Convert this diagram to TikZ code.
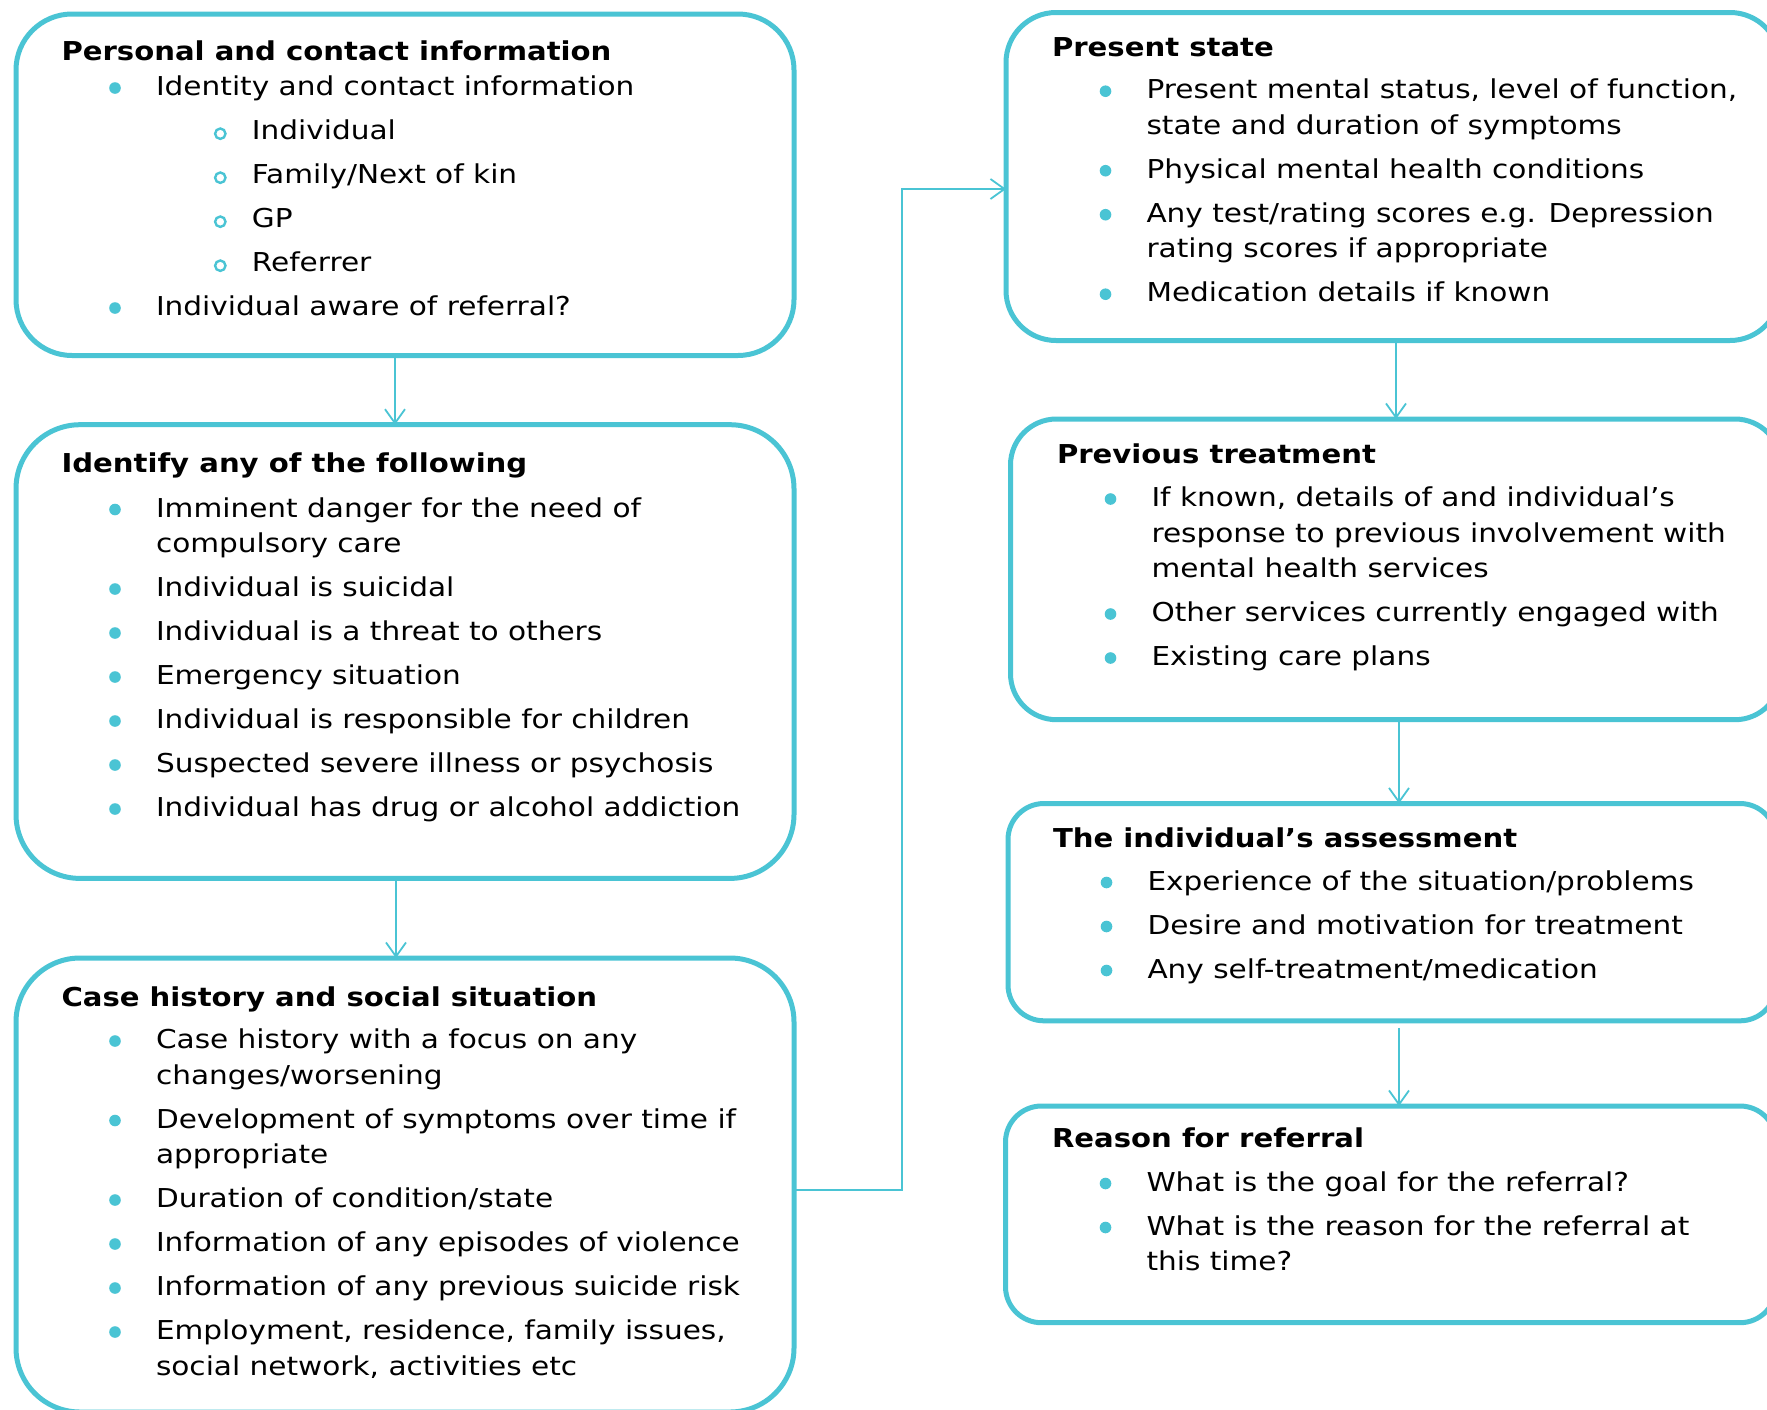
\documentclass[tikz,border=0pt]{standalone}
\usepackage{fontspec}
\setmainfont[FakeStretch=1.137,BoldFeatures={FakeStretch=1.12}]{DejaVu Sans}
\usetikzlibrary{arrows.meta,calc}
\definecolor{bcol}{RGB}{74,196,212}
\tikzset{
  flowbox/.style={draw=bcol, line width=2.5pt, inner sep=0pt, outer sep=0pt, fill=white},
  txt/.style={anchor=base west, inner sep=0pt, outer sep=0pt, font=\fontsize{13pt}{17.75pt}\selectfont},
  conn/.style={draw=bcol, line width=0.9pt, -{Straight Barb[length=7pt,width=10pt]}}
}
\newcommand\bulletdot{\tikz[baseline=0pt]\fill[bcol] (0pt,3.75pt) circle (2.9pt);}
\newcommand\subdot{\tikz[baseline=0pt]\draw[bcol,line width=1.2pt] (0pt,2.9pt) circle (2.6pt);}
\newcommand\btitle[1]{\hbox{\bfseries #1}}
\newcommand\bitem[2][4.25pt]{\vskip#1\relax\hbox{\makebox[47.25pt][l]{\hspace{23.85pt}\bulletdot}#2}}
\newcommand\ctline[1]{\hbox{\hspace{47.25pt}#1}}
\newcommand\sitem[2][4.25pt]{\vskip#1\relax\hbox{\hspace{76.2pt}\subdot\hspace{12.6pt}#2}}
\newcommand\boxtext[1]{\vtop{\baselineskip=17.75pt\lineskiplimit=-30pt\lineskip=0pt #1}}
\begin{document}
\begin{tikzpicture}[x=0.5pt,y=-0.5pt]
\path[use as bounding box, clip] (0,0) rectangle (1767,1409);
\fill[white] (0,0) rectangle (1767,1409);

% boxes
\node[flowbox, rounded corners=28pt, minimum width=389pt, minimum height=170.75pt] (b1) at (405,184.75) {};
\node[flowbox, rounded corners=32pt, minimum width=389pt, minimum height=226.85pt] (b2) at (405,651.55) {};
\node[flowbox, rounded corners=32pt, minimum width=389pt, minimum height=227pt] (b3) at (405,1185) {};
\node[flowbox, rounded corners=25pt, minimum width=387pt, minimum height=164pt] (b4) at (1393,176.5) {};
\node[flowbox, rounded corners=23pt, minimum width=385.25pt, minimum height=150.35pt] (b5) at (1395.75,569.35) {};
\node[flowbox, rounded corners=18pt, minimum width=384pt, minimum height=108.65pt] (b6) at (1392,912.15) {};
\node[flowbox, rounded corners=18pt, minimum width=385.25pt, minimum height=108.35pt] (b7) at (1390.75,1214.35) {};

% texts
\node[txt] (t1) at (61.5,60) {\boxtext{%
  \btitle{Personal and contact information}
  \bitem[0pt]{Identity and contact information}
  \sitem{Individual}
  \sitem{Family/Next of kin}
  \sitem{GP}
  \sitem{Referrer}
  \bitem{Individual aware of referral?}}};

\node[txt] (t2) at (61.5,472) {\boxtext{%
  \btitle{Identify any of the following}
  \bitem[4.75pt]{Imminent danger for the need of}
  \ctline{compulsory care}
  \bitem{Individual is suicidal}
  \bitem{Individual is a threat to others}
  \bitem{Emergency situation}
  \bitem{Individual is responsible for children}
  \bitem{Suspected severe illness or psychosis}
  \bitem{Individual has drug or alcohol addiction}}};

\node[txt] (t3) at (61.5,1006.5) {\boxtext{%
  \btitle{Case history and social situation}
  \bitem[3.25pt]{Case history with a focus on any}
  \ctline{changes/worsening}
  \bitem{Development of symptoms over time if}
  \ctline{appropriate}
  \bitem{Duration of condition/state}
  \bitem{Information of any episodes of violence}
  \bitem{Information of any previous suicide risk}
  \bitem{Employment, residence, family issues,}
  \ctline{social network, activities etc}}};

\node[txt] (t4) at (1052,56.7) {\boxtext{%
  \btitle{Present state}
  \bitem[3.25pt]{Present mental status, level of function,}
  \ctline{state and duration of symptoms}
  \bitem{Physical mental health conditions}
  \bitem{Any test/rating scores e.g. Depression}
  \ctline{rating scores if appropriate}
  \bitem{Medication details if known}}};

\node[txt] (t5) at (1057,463) {\boxtext{%
  \btitle{Previous treatment}
  \bitem[4pt]{If known, details of and individual’s}
  \ctline{response to previous involvement with}
  \ctline{mental health services}
  \bitem{Other services currently engaged with}
  \bitem{Existing care plans}}};

\node[txt] (t6) at (1053,847) {\boxtext{%
  \btitle{The individual’s assessment}
  \bitem[3.75pt]{Experience of the situation/problems}
  \bitem{Desire and motivation for treatment}
  \bitem{Any self-treatment/medication}}};

\node[txt] (t7) at (1052,1147) {\boxtext{%
  \btitle{Reason for referral}
  \bitem{What is the goal for the referral?}
  \bitem{What is the reason for the referral at}
  \ctline{this time?}}};

% connectors
\coordinate (x12) at (395,0);
\coordinate (x23) at (396,0);
\coordinate (x45) at (1396,0);
\coordinate (x56) at (1399,0);
\coordinate (x67) at (1399,0);
\coordinate (elbow) at (902,1190);
\coordinate (topy) at (0,189);
\draw[conn] (b1.south -| x12) -- (b2.north -| x12);
\draw[conn] (b2.south -| x23) -- (b3.north -| x23);
\draw[conn] (b4.south -| x45) -- (b5.north -| x45);
\draw[conn] (b5.south -| x56) -- (b6.north -| x56);
\draw[conn] ([yshift=-3.5pt]b6.south -| x67) -- (b7.north -| x67);
\draw[conn] (b3.east |- elbow) -- (elbow) |- (b4.west |- topy);
\end{tikzpicture}
\end{document}
